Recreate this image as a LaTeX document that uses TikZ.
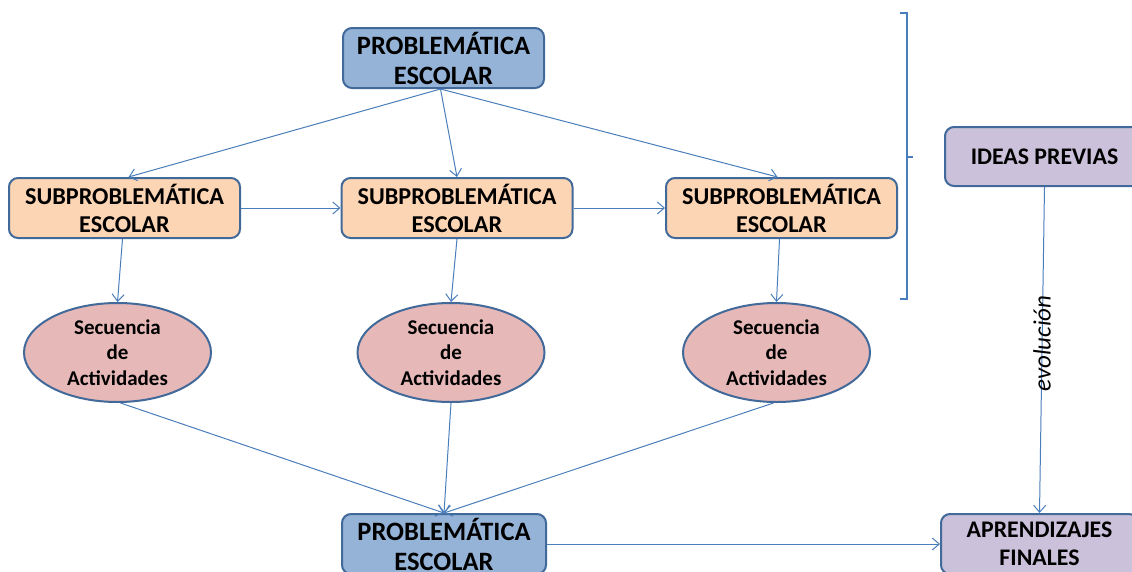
\documentclass[tikz,border=0pt]{standalone}
\usepackage{fontspec}
\setmainfont{Carlito}
\usetikzlibrary{arrows.meta,shapes.geometric,calc}
\definecolor{lineblue}{HTML}{4A7EBB}
\definecolor{edgeblue}{HTML}{41699A}
\definecolor{boxblue}{HTML}{95B3D7}
\definecolor{boxorange}{HTML}{FCD5B5}
\definecolor{boxpink}{HTML}{E6B9B8}
\definecolor{boxlilac}{HTML}{CCC1DA}
\tikzset{
  box/.style={draw=edgeblue, line width=2pt, rounded corners=9pt, inner sep=0pt,
    align=center, font=\bfseries\fontsize{26.5}{30}\selectfont},
  mainbox/.style={box, fill=boxblue, minimum width=201pt, minimum height=60pt},
  subbox/.style={box, fill=boxorange, minimum width=231pt, minimum height=60pt,
    font=\bfseries\fontsize{24.2}{28}\selectfont},
  seqbox/.style={ellipse, draw=edgeblue, line width=2pt, fill=boxpink, inner sep=0pt,
    minimum width=187pt, minimum height=99pt, align=center,
    font=\bfseries\fontsize{21}{25.5}\selectfont},
  sidebox/.style={box, fill=boxlilac, font=\bfseries\fontsize{23.8}{28}\selectfont},
  link/.style={draw=lineblue, line width=1pt, -{Straight Barb[length=7pt,width=12pt]}},
}
\begin{document}
\begin{tikzpicture}[x=1pt,y=-1pt]
\useasboundingbox (0,0) rectangle (1132,571);
\clip (0,0) rectangle (1132,571);

% nodes
\node[mainbox] (top) at (443.5,58) {PROBLEMÁTICA\\ESCOLAR};
\node[subbox] (s1) at (124.5,208) {SUBPROBLEMÁTICA\\ESCOLAR};
\node[subbox] (s2) at (457,208) {SUBPROBLEMÁTICA\\ESCOLAR};
\node[subbox] (s3) at (781.5,208) {SUBPROBLEMÁTICA\\ESCOLAR};
\node[seqbox] (e1) at (117.5,352.5) {Secuencia\\de\\Actividades};
\node[seqbox] (e2) at (451,352.5) {Secuencia\\de\\Actividades};
\node[seqbox] (e3) at (776.5,352.5) {Secuencia\\de\\Actividades};
\node[mainbox, minimum width=204pt] (bot) at (444,544) {PROBLEMÁTICA\\ESCOLAR};
\node[sidebox, minimum width=199pt, minimum height=59pt] (ideas) at (1044.5,156.5) {IDEAS PREVIAS};
\node[sidebox, minimum width=197pt, minimum height=60pt] (apr) at (1039.5,544) {APRENDIZAJES\\FINALES};

% connectors
\draw[link] ($(top.south)+(-3,0)$) -- ($(s1.north)+(4,0)$);
\draw[link] ($(top.south)+(-3,0)$) -- (s2.north);
\draw[link] ($(top.south)+(-3,0)$) -- ($(s3.north)+(-4,0)$);
\draw[link] (s1.east) -- (s2.west);
\draw[link] (s2.east) -- (s3.west);
\draw[link] ($(s1.south)+(-2,0)$) -- (e1.north);
\draw[link] (s2.south) -- (e2.north);
\draw[link] ($(s3.south)+(-2,0)$) -- (e3.north);
\draw[link] ($(e1.south)+(3,0)$) -- (bot.north);
\draw[link] (e2.south) -- (bot.north);
\draw[link] ($(e3.south)+(-3,0)$) -- (bot.north);
\draw[link] (bot.east) -- (apr.west);
\draw[link] (ideas.south) -- (apr.north)
  node[pos=0.48, rotate=90, font=\itshape\fontsize{25}{29}\selectfont] (evo) {evolución};

% bracket grouping the problem levels
\coordinate (brt) at (907,13);
\coordinate (brb) at (907,299);
\coordinate (brm) at (907,157);
\draw[lineblue, line width=1.2pt] ($(brt)+(-7,0)$) -- (brt) -- (brb) -- ($(brb)+(-7,0)$);
\draw[lineblue, line width=1.2pt] (brm) -- ($(brm)+(6,0)$);
\end{tikzpicture}
\end{document}
